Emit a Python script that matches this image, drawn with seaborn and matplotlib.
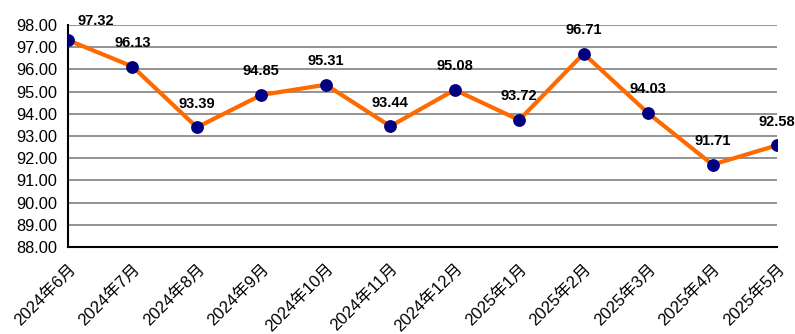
import matplotlib
matplotlib.use("Agg")
import matplotlib.pyplot as plt
import seaborn as sns
import pandas as pd

months = ["2024年6月", "2024年7月", "2024年8月", "2024年9月", "2024年10月", "2024年11月",
          "2024年12月", "2025年1月", "2025年2月", "2025年3月", "2025年4月", "2025年5月"]
values = [97.32, 96.13, 93.39, 94.85, 95.31, 93.44, 95.08, 93.72, 96.71, 94.03, 91.71, 92.58]
y_ticks = [88, 89, 90, 91, 92, 93, 94, 95, 96, 97, 98]

sns.set_theme(style="white")
plt.rcParams["font.family"] = ["Liberation Sans", "Noto Sans CJK SC", "DejaVu Sans"]

df = pd.DataFrame({"month": months, "value": values, "pos": range(len(months))})

fig = plt.figure(figsize=(7.95, 3.34), dpi=100)
ax = fig.add_axes([68 / 795, 1 - 247 / 334, (777 - 68) / 795, (247 - 25) / 334])

sns.lineplot(data=df, x="pos", y="value", ax=ax, color="#FF6A00", linewidth=3, zorder=2)
sns.scatterplot(data=df, x="pos", y="value", ax=ax, color="#000080", s=85,
                edgecolor="#000080", linewidth=0, zorder=3)

ax.set_xlim(0, len(months) - 1)
ax.set_ylim(88, 98)
ax.set_yticks(y_ticks)
ax.set_yticklabels([f"{v:.2f}" for v in y_ticks], fontsize=11.8, color="black")
ax.set_xticks(range(len(months)))
ax.set_xticklabels(months, rotation=45, ha="right", rotation_mode="anchor",
                   fontsize=12, color="black")
ax.tick_params(axis="x", direction="in", length=7, width=1.2, color="black", pad=10)
ax.tick_params(axis="y", length=0, pad=7.5)

for v in y_ticks:
    ax.axhline(v, color="#808080", linewidth=1.2, zorder=1)

for s in ["top", "right"]:
    ax.spines[s].set_visible(False)
for s in ["left", "bottom"]:
    ax.spines[s].set_color("black")
    ax.spines[s].set_linewidth(1.5)
ax.set_xlabel("")
ax.set_ylabel("")

for i, v in enumerate(values):
    if i == 0:
        ax.annotate(f"{v:.2f}", (i, v), xytext=(7, 9), textcoords="offset points",
                    ha="left", va="bottom", fontsize=10.5, fontweight="bold", color="black")
    else:
        ax.annotate(f"{v:.2f}", (i, v), xytext=(0, 12), textcoords="offset points",
                    ha="center", va="bottom", fontsize=10.5, fontweight="bold", color="black")

fig.savefig("out.png", dpi=100)
